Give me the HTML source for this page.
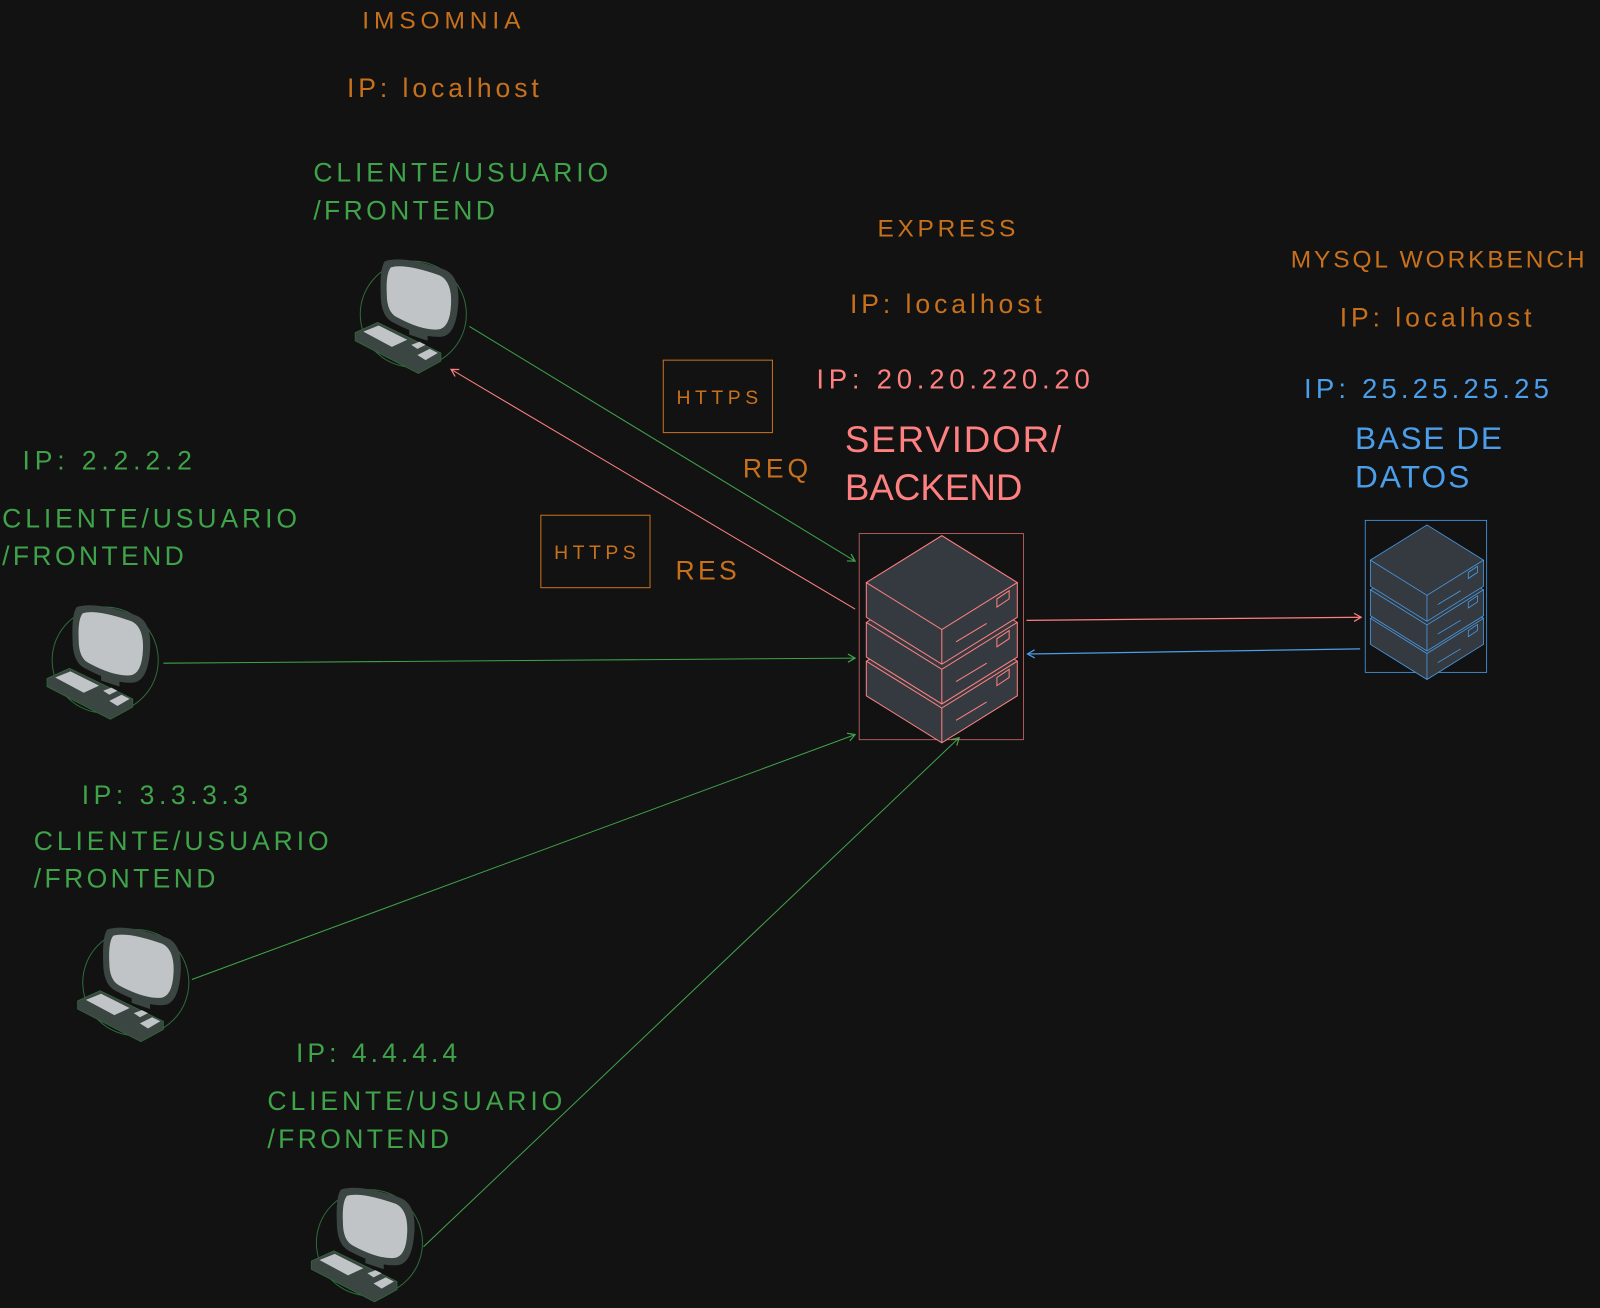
<!DOCTYPE html>
<html><head><meta charset="utf-8"><style>html,body{margin:0;padding:0;background:#121212;}svg{display:block}</style></head>
<body>
<svg width="1600" height="1308" viewBox="0 0 1568 1282" xmlns="http://www.w3.org/2000/svg" font-family="Liberation Sans, sans-serif">
<defs>
<marker id="ag" markerWidth="10" markerHeight="10" refX="8" refY="5" orient="auto" markerUnits="userSpaceOnUse"><path d="M1,1 L8,5 L1,9" fill="none" stroke="#3fa34a" stroke-width="1.2"/></marker>
<marker id="ar" markerWidth="10" markerHeight="10" refX="8" refY="5" orient="auto" markerUnits="userSpaceOnUse"><path d="M1,1 L8,5 L1,9" fill="none" stroke="#ff8080" stroke-width="1.2"/></marker>
<marker id="ab" markerWidth="10" markerHeight="10" refX="8" refY="5" orient="auto" markerUnits="userSpaceOnUse"><path d="M1,1 L8,5 L1,9" fill="none" stroke="#4a9eea" stroke-width="1.2"/></marker>
<g id="pc">
<circle cx="0" cy="0" r="52" fill="none" stroke="#2f6a3a" stroke-width="1"/>
<path d="M-28,-52 Q-10,-58 30,-44 Q46,-38 44,-10 Q42,20 28,22 Q10,24 -20,8 Q-32,2 -32,-20 Q-33,-45 -28,-52 Z" fill="#3b4542"/>
<path d="M-22,-46 Q-8,-50 26,-38 Q38,-32 37,-10 Q36,14 24,15 Q8,16 -16,3 Q-26,-2 -26,-20 Q-27,-40 -22,-46 Z" fill="#c0c4c6"/>
<path d="M-4,14 L14,20 L14,26 L-4,20Z" fill="#3b4542"/>
<path d="M-57,18 L-35,8 L27,38 L27,46 L5,58 L-57,26 Z" fill="#3b4542" stroke="#2f6a3a" stroke-width="0.8"/>
<path d="M-49,17 L-34,11 L-6,25 L-21,32 Z" fill="#c0c4c6"/>
<path d="M-2,30 L6,27 L12,30 L4,34Z" fill="#c0c4c6"/>
<path d="M4,40 L16,34 L24,38 L12,45Z" fill="#c0c4c6"/>
</g>
<g id="unit">
<path d="M0,0 L74,-46 L148,0 L148,34 L74,80 L0,34 Z" fill="#343a40"/>
<path d="M0,0 L74,-46 L148,0 L74,46 Z M74,46 L74,80 M0,0 L0,34 L74,80 L148,34 L148,0" fill="none" stroke="currentColor" stroke-width="1"/>
<path d="M128,24 L140,16 L140,8 L128,16Z M88,58 L118,40" fill="none" stroke="currentColor" stroke-width="1"/>
</g>
</defs>
<rect width="1568" height="1282" fill="#121212"/>

<!-- connectors -->
<line x1="460" y1="320" x2="838" y2="550" stroke="#3fa34a" stroke-width="1" marker-end="url(#ag)"/>
<line x1="838" y1="597" x2="442" y2="362" stroke="#ff8080" stroke-width="1" marker-end="url(#ar)"/>
<line x1="160" y1="650" x2="838" y2="645" stroke="#3fa34a" stroke-width="1" marker-end="url(#ag)"/>
<line x1="188" y1="960" x2="838" y2="720" stroke="#3fa34a" stroke-width="1" marker-end="url(#ag)"/>
<line x1="415" y1="1222" x2="940" y2="723" stroke="#3fa34a" stroke-width="1" marker-end="url(#ag)"/>
<line x1="1006" y1="608" x2="1334" y2="605" stroke="#ff8080" stroke-width="1.2" marker-end="url(#ar)"/>
<line x1="1333" y1="636" x2="1007" y2="641" stroke="#4a9eea" stroke-width="1.2" marker-end="url(#ab)"/>

<!-- computers -->
<use href="#pc" x="405" y="308"/>
<use href="#pc" x="103" y="647"/>
<use href="#pc" x="133" y="963"/>
<use href="#pc" x="362" y="1218"/>

<!-- server -->
<rect x="842" y="523" width="161" height="202" fill="none" stroke="#ff8080" stroke-width="0.8" opacity="0.8"/>
<g color="#ff8080">
<use href="#unit" x="849" y="648"/>
<use href="#unit" x="849" y="610"/>
<use href="#unit" x="849" y="571"/>
</g>
<!-- db -->
<rect x="1338" y="510" width="119" height="149" fill="none" stroke="#4a9eea" stroke-width="0.8"/>
<g color="#4a9eea">
<use href="#unit" transform="translate(1343,606) scale(0.75)"/>
<use href="#unit" transform="translate(1343,578) scale(0.75)"/>
<use href="#unit" transform="translate(1343,549) scale(0.75)"/>
</g>

<!-- HTTPS boxes -->
<rect x="650" y="353" width="107" height="71" fill="none" stroke="#c8711c" stroke-width="1"/>
<text x="663" y="396" font-size="19" fill="#c8711c" textLength="80">HTTPS</text>
<rect x="530" y="505" width="107" height="71" fill="none" stroke="#c8711c" stroke-width="1"/>
<text x="543" y="548" font-size="19" fill="#c8711c" textLength="80">HTTPS</text>

<g fill="#c8711c" font-size="26">
<text x="355" y="28" font-size="24" textLength="155">IMSOMNIA</text>
<text x="340" y="95" textLength="188">IP: localhost</text>
<text x="860" y="232" font-size="24" textLength="135">EXPRESS</text>
<text x="833" y="307" textLength="188">IP: localhost</text>
<text x="1265" y="262" font-size="24" textLength="288">MYSQL WORKBENCH</text>
<text x="1313" y="320" textLength="188">IP: localhost</text>
<text x="728" y="468" textLength="64">REQ</text>
<text x="662" y="568" textLength="60">RES</text>
</g>
<g fill="#ff8080">
<text x="800" y="381" font-size="27" textLength="268">IP: 20.20.220.20</text>
<text x="828" y="443" font-size="36" textLength="212">SERVIDOR/</text>
<text x="828" y="490" font-size="36" textLength="174">BACKEND</text>
</g>
<g fill="#4a9eea">
<text x="1278" y="390" font-size="27" textLength="240">IP: 25.25.25.25</text>
<text x="1328" y="440" font-size="31" textLength="144">BASE DE</text>
<text x="1328" y="478" font-size="31" textLength="112">DATOS</text>
</g>
<g fill="#3fa34a" font-size="26">
<text x="307" y="178" textLength="289">CLIENTE/USUARIO</text>
<text x="307" y="215" textLength="178">/FRONTEND</text>
<text x="22" y="460" textLength="166">IP: 2.2.2.2</text>
<text x="2" y="517" textLength="289">CLIENTE/USUARIO</text>
<text x="2" y="554" textLength="178">/FRONTEND</text>
<text x="80" y="788" textLength="163">IP: 3.3.3.3</text>
<text x="33" y="833" textLength="289">CLIENTE/USUARIO</text>
<text x="33" y="870" textLength="178">/FRONTEND</text>
<text x="290" y="1041" textLength="158">IP: 4.4.4.4</text>
<text x="262" y="1088" textLength="289">CLIENTE/USUARIO</text>
<text x="262" y="1125" textLength="178">/FRONTEND</text>
</g>
</svg>
</body></html>
